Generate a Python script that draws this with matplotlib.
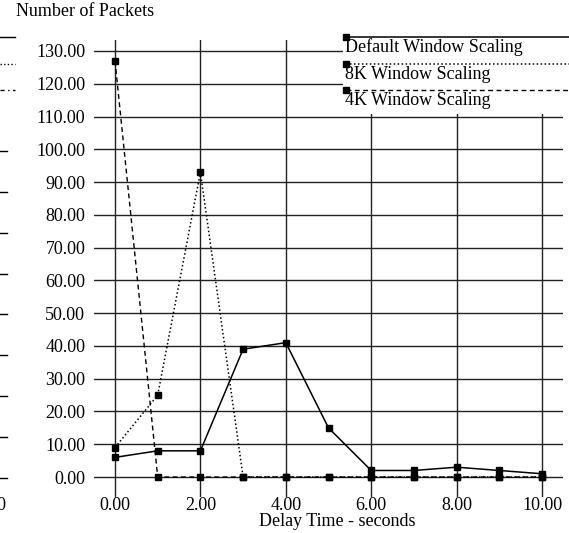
import matplotlib
matplotlib.use("Agg")
import matplotlib.pyplot as plt
from matplotlib.lines import Line2D

# data
delay = [0, 1, 2, 3, 4, 5, 6, 7, 8, 9, 10]
default_scaling = [6, 8, 8, 39, 41, 15, 2, 2, 3, 2, 1]
k8_scaling = [9, 25, 93, 0, 0, 0, 0, 0, 0, 0, 0]
k4_scaling = [127, 0, 0, 0, 0, 0, 0, 0, 0, 0, 0]
series_names = ["Default Window Scaling", "8K Window Scaling", "4K Window Scaling"]
x_ticks = [0, 2, 4, 6, 8, 10]
y_ticks = list(range(0, 131, 10))

W, H = 569, 533
plt.rcParams["font.family"] = ["Liberation Serif", "DejaVu Serif"]
plt.rcParams["font.size"] = 13

fig = plt.figure(figsize=(W / 100, H / 100), dpi=100)
ax = fig.add_axes([93.65 / W, (H - 496.7) / H, 469.7 / W, 456.7 / H])

styles = [
    dict(linestyle="-", linewidth=1.1),
    dict(linestyle=(0, (1, 1.6)), linewidth=1.1),
    dict(linestyle=(0, (3.5, 2.5)), linewidth=1.0),
]
for ys, st in zip([default_scaling, k8_scaling, k4_scaling], styles):
    ax.plot(delay, ys, color="black", marker="s", markersize=4, zorder=3, **st)

ax.set_xlim(-0.5, 10.5)
ax.set_ylim(-6, 133.35)
ax.set_xticks(x_ticks)
ax.set_yticks(y_ticks)
ax.set_xticklabels([f"{v:.2f}" for v in x_ticks])
ax.set_yticklabels([f"{v:.2f}" for v in y_ticks])
ax.tick_params(length=0, pad=0)
ax.tick_params(axis="y", pad=6)
ax.grid(True, color="#222222", linewidth=1.0)
ax.set_axisbelow(True)
for s in ax.spines.values():
    s.set_visible(False)

fig.text(85 / W, 1 - 12 / H, "Number of Packets", ha="center", va="center")
fig.text(337 / W, 1 - 522 / H, "Delay Time - seconds", ha="center", va="center")

# legend panel on top of the grid
lg = fig.add_axes([343 / W, (H - 114) / H, (W - 343) / W, 83 / H], zorder=5)
lg.set_xlim(343, W)
lg.set_ylim(114, 31)
lg.axis("off")
lg.add_patch(plt.Rectangle((343, 31), W - 343, 83, color="white", zorder=0))
for i, (name, st) in enumerate(zip(series_names, styles)):
    yl = 37 + i * 26.5
    lg.plot([346, W], [yl, yl], color="black", clip_on=False, **st)
    lg.plot([346], [yl], color="black", marker="s", markersize=4, clip_on=False)
    lg.text(345, yl + 10.5, name, ha="left", va="center")

# remnants of a neighbouring chart on the left edge
for i, ls in enumerate(["-", (0, (1, 1.6)), (0, (3, 2.5, 1, 2.5))]):
    yl = 37 + i * 26.5
    fig.add_artist(Line2D([0, 15 / W], [1 - yl / H] * 2, color="black", lw=1, linestyle=ls))
for k in range(9):
    yl = 478 - k * 40.9
    fig.add_artist(Line2D([0, 7 / W], [1 - yl / H] * 2, color="black", lw=1))
fig.text(6 / W, 1 - 505 / H, "10", ha="right", va="center")

fig.savefig("out.png", dpi=100)
